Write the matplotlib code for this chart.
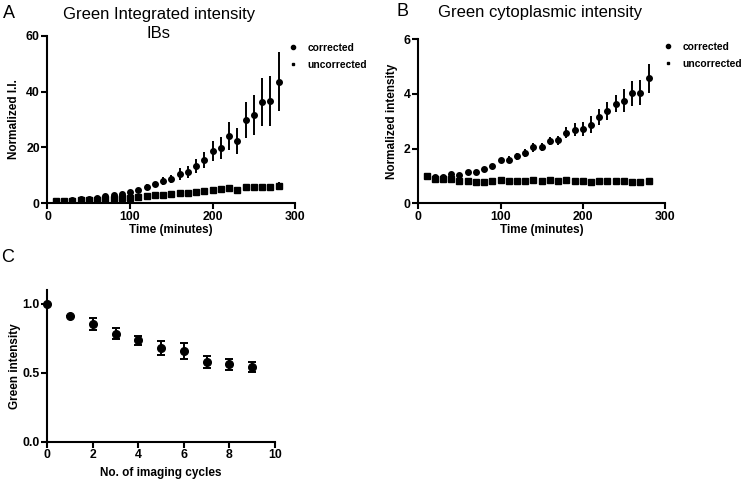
import numpy as np
import matplotlib
matplotlib.use("Agg")
import matplotlib.pyplot as plt
from matplotlib.lines import Line2D

plt.rcParams['font.family'] = ['Liberation Sans', 'DejaVu Sans']

# time points (minutes)
time_min = [10, 20, 30, 40, 50, 60, 70, 80, 90, 100, 110, 120, 130, 140,
            150, 160, 170, 180, 190, 200, 210, 220, 230, 240, 250, 260, 270, 280]

# Panel A: integrated intensity of IBs
ii_corr = [1.0, 1.0, 1.2, 1.4, 1.5, 2.0, 2.5, 3.0, 3.2, 4.2, 4.8, 6.0, 6.8, 8.1,
           8.7, 10.5, 11.1, 13.4, 15.5, 18.7, 19.9, 24.0, 22.3, 29.7, 31.6, 36.4, 36.6, 43.5]
ii_corr_err = [0.1, 0.1, 0.2, 0.2, 0.2, 0.3, 0.3, 0.4, 0.5, 0.6, 0.7, 0.8, 1.0, 1.4,
               1.6, 2.0, 2.2, 2.6, 3.0, 3.6, 4.0, 5.0, 4.8, 6.4, 7.0, 8.6, 8.8, 10.6]
ii_unc = [0.8, 0.9, 1.0, 1.1, 1.1, 1.3, 1.5, 1.6, 1.8, 2.0, 2.3, 2.6, 2.9, 3.1,
          3.3, 3.6, 3.8, 4.2, 4.4, 4.8, 5.0, 5.5, 4.8, 5.8, 5.8, 6.0, 6.0, 6.3]
ii_unc_err = [0.1, 0.1, 0.1, 0.1, 0.1, 0.1, 0.2, 0.2, 0.2, 0.2, 0.2, 0.3, 0.3, 0.3,
              0.3, 0.4, 0.4, 0.4, 0.5, 0.5, 0.5, 0.7, 0.6, 0.9, 0.9, 1.0, 1.0, 1.2]

# Panel B: cytoplasmic intensity
cy_corr = [1.0, 0.95, 0.98, 1.08, 1.05, 1.15, 1.15, 1.25, 1.37, 1.58, 1.6, 1.72, 1.85, 2.05,
           2.05, 2.28, 2.3, 2.58, 2.7, 2.72, 2.88, 3.15, 3.38, 3.65, 3.75, 4.02, 4.05, 4.57]
cy_corr_err = [0.02, 0.03, 0.04, 0.05, 0.04, 0.05, 0.05, 0.05, 0.08, 0.08, 0.14, 0.12, 0.14, 0.16,
               0.15, 0.15, 0.17, 0.2, 0.22, 0.24, 0.3, 0.3, 0.33, 0.32, 0.42, 0.47, 0.47, 0.54]
cy_unc = [1.0, 0.9, 0.9, 0.9, 0.82, 0.82, 0.77, 0.78, 0.8, 0.87, 0.82, 0.83, 0.83, 0.87,
          0.83, 0.86, 0.8, 0.87, 0.83, 0.8, 0.77, 0.8, 0.82, 0.83, 0.8, 0.78, 0.78, 0.82]
cy_unc_err = [0.02, 0.03, 0.03, 0.03, 0.03, 0.03, 0.03, 0.03, 0.03, 0.03, 0.03, 0.03, 0.03, 0.03,
              0.03, 0.03, 0.03, 0.03, 0.04, 0.04, 0.04, 0.04, 0.05, 0.06, 0.1, 0.08, 0.1, 0.1]

# Panel C: bleaching over imaging cycles
cycles = [0, 1, 2, 3, 4, 5, 6, 7, 8, 9]
green_int = [1.0, 0.91, 0.855, 0.783, 0.735, 0.682, 0.658, 0.578, 0.561, 0.542]
green_err = [0.0, 0.0, 0.043, 0.04, 0.035, 0.05, 0.055, 0.045, 0.04, 0.035]

W, H = 741, 480
fig = plt.figure(figsize=(W / 100, H / 100), dpi=100)


def px_axes(l, t, r, b):
    return fig.add_axes([l / W, 1 - b / H, (r - l) / W, (b - t) / H])


def style(ax):
    for s in ['top', 'right']:
        ax.spines[s].set_visible(False)
    for s in ['left', 'bottom']:
        ax.spines[s].set_linewidth(1.5)
    ax.tick_params(width=1.5, length=4, labelsize=8.8, pad=1.5)
    for lab in ax.get_xticklabels() + ax.get_yticklabels():
        lab.set_fontweight('bold')


def legend(ax, mx, my):
    # mx: marker x in px, my: vertical centre of the two rows in px
    h = [Line2D([], [], ls='none', marker='o', ms=3, color='black'),
         Line2D([], [], ls='none', marker='s', ms=2, color='black')]
    ax.legend(h, ['corrected', 'uncorrected'], loc='center left',
              bbox_to_anchor=((mx - 4.0) / W, 1 - my / H), bbox_transform=fig.transFigure,
              frameon=False, prop={'size': 7.4, 'weight': 'bold'}, borderpad=0,
              borderaxespad=0, handletextpad=1.0, labelspacing=0.7, handlelength=0.8)


eb = dict(ls='none', color='black', elinewidth=1.4, capsize=0)

# Panel A
axA = px_axes(47.5, 35.7, 295, 203.3)
axA.errorbar(time_min, ii_unc, yerr=ii_unc_err, marker='s', ms=4, **eb)
axA.errorbar(time_min, ii_corr, yerr=ii_corr_err, marker='o', ms=4.0, **eb)
axA.set_xlim(0, 300)
axA.set_ylim(0, 60)
axA.set_xticks([0, 100, 200, 300])
axA.set_yticks([0, 20, 40, 60])
axA.set_xlabel('Time (minutes)', fontsize=8.5, fontweight='bold', labelpad=1)
axA.set_ylabel('Normalized I.I.', fontsize=8.5, fontweight='bold', labelpad=4)
style(axA)
legend(axA, 293, 56.3)
fig.text(159 / W, 1 - 15 / H, 'Green Integrated intensity', ha='center', va='center', fontsize=12)
fig.text(159 / W, 1 - 33 / H, 'IBs', ha='center', va='center', fontsize=12)
fig.text(9 / W, 1 - 13 / H, 'A', ha='center', va='center', fontsize=13)

# Panel B
axB = px_axes(418.3, 39.3, 665, 203.3)
axB.errorbar(time_min, cy_unc, yerr=cy_unc_err, marker='s', ms=4, **eb)
axB.errorbar(time_min, cy_corr, yerr=cy_corr_err, marker='o', ms=4.0, **eb)
axB.set_xlim(0, 300)
axB.set_ylim(0, 6)
axB.set_xticks([0, 100, 200, 300])
axB.set_yticks([0, 2, 4, 6])
axB.set_xlabel('Time (minutes)', fontsize=8.5, fontweight='bold', labelpad=1)
axB.set_ylabel('Normalized intensity', fontsize=8.5, fontweight='bold', labelpad=4)
style(axB)
legend(axB, 667.7, 55.3)
fig.text(540 / W, 1 - 13 / H, 'Green cytoplasmic intensity', ha='center', va='center', fontsize=12)
fig.text(402 / W, 1 - 12 / H, 'B', ha='center', va='center', fontsize=13)

# Panel C
axC = px_axes(47.3, 290, 275, 441.7)
axC.errorbar(cycles, green_int, yerr=green_err, marker='o', ms=5.5, ls='none', color='black',
             elinewidth=1.4, capsize=3, capthick=1.4)
axC.set_xlim(0, 10)
axC.set_ylim(0, 1.1)
axC.set_xticks([0, 2, 4, 6, 8, 10])
axC.set_yticks([0.0, 0.5, 1.0])
axC.set_yticklabels(['0.0', '0.5', '1.0'])
axC.set_xlabel('No. of imaging cycles', fontsize=8.5, fontweight='bold', labelpad=4)
axC.set_ylabel('Green intensity', fontsize=8.5, fontweight='bold', labelpad=1)
style(axC)
for line in axC.lines:
    line.set_clip_on(False)
fig.text(8 / W, 1 - 257 / H, 'C', ha='center', va='center', fontsize=13)

fig.savefig('out.png', dpi=100)
